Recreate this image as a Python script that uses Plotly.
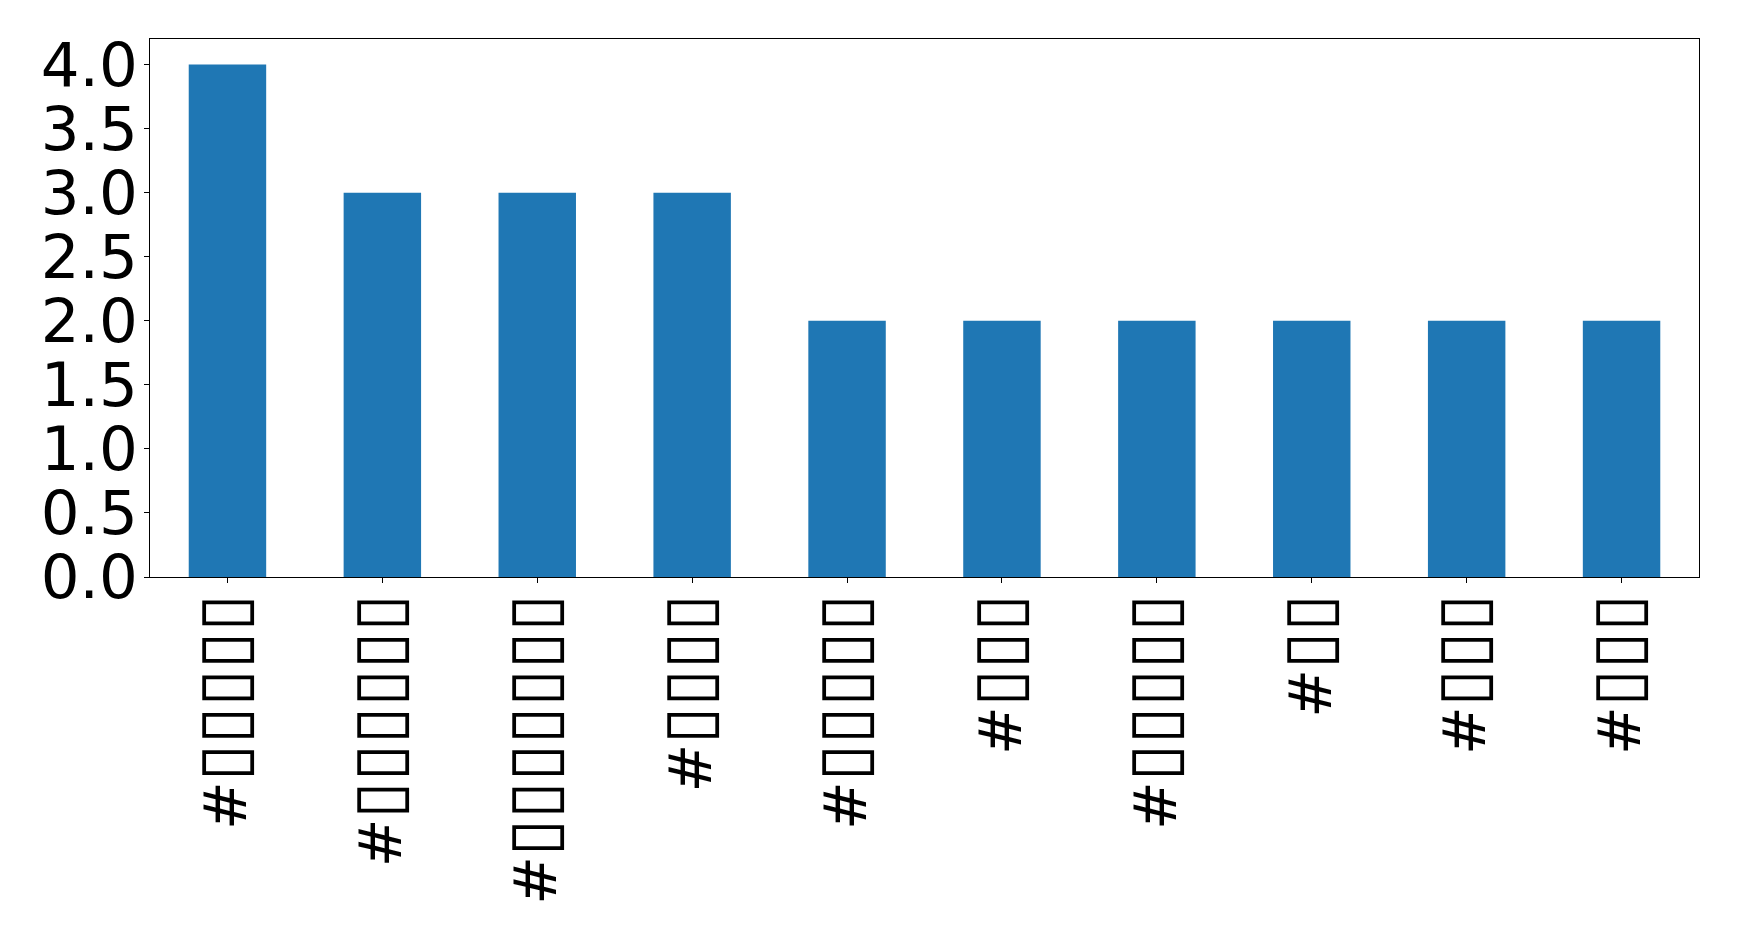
import plotly.graph_objects as go

B = "\u25AF"
categories = ["#" + B * 5, "#" + B * 6, "#" + B * 7, "#" + B * 4, "#" + B * 5,
              "#" + B * 3, "#" + B * 5, "#" + B * 2, "#" + B * 3, "#" + B * 3]
values = [4, 3, 3, 3, 2, 2, 2, 2, 2, 2]
ytick_vals = [0.0, 0.5, 1.0, 1.5, 2.0, 2.5, 3.0, 3.5, 4.0]
ytick_text = ["0.0", "0.5", "1.0", "1.5", "2.0", "2.5", "3.0", "3.5", "4.0"]

x = list(range(len(categories)))


def styled(label):
    return label[0] + '<span style="font-size:68px">' + label[1:] + "</span>"


fig = go.Figure(go.Bar(x=x, y=values, width=0.5, marker_color="#1f77b4",
                       marker_line_width=0))

fig.update_layout(
    width=1739, height=943,
    margin=dict(l=142, r=48, t=31, b=374),
    paper_bgcolor="white", plot_bgcolor="white",
    font=dict(family="DejaVu Sans", size=60, color="black"),
    showlegend=False,
)
fig.update_xaxes(range=[-0.5, 9.5], tickmode="array", tickvals=x,
                 ticktext=[styled(c) for c in categories],
                 tickangle=-90, ticks="outside", ticklen=5, tickwidth=1, tickcolor="black",
                 showline=True, linecolor="black", linewidth=1, mirror=True,
                 showgrid=False, zeroline=False, tickfont=dict(size=58))
fig.update_yaxes(range=[0, 4.2], tickmode="array", tickvals=ytick_vals, ticktext=ytick_text,
                 ticks="outside", ticklen=5, tickwidth=1, tickcolor="black",
                 showline=True, linecolor="black", linewidth=1, mirror=True,
                 showgrid=False, zeroline=False, tickfont=dict(size=61))
try:
    fig.update_xaxes(ticklabelstandoff=-12)
    fig.update_yaxes(ticklabelstandoff=-6)
except (ValueError, TypeError):
    pass

fig.write_html("out.html")
